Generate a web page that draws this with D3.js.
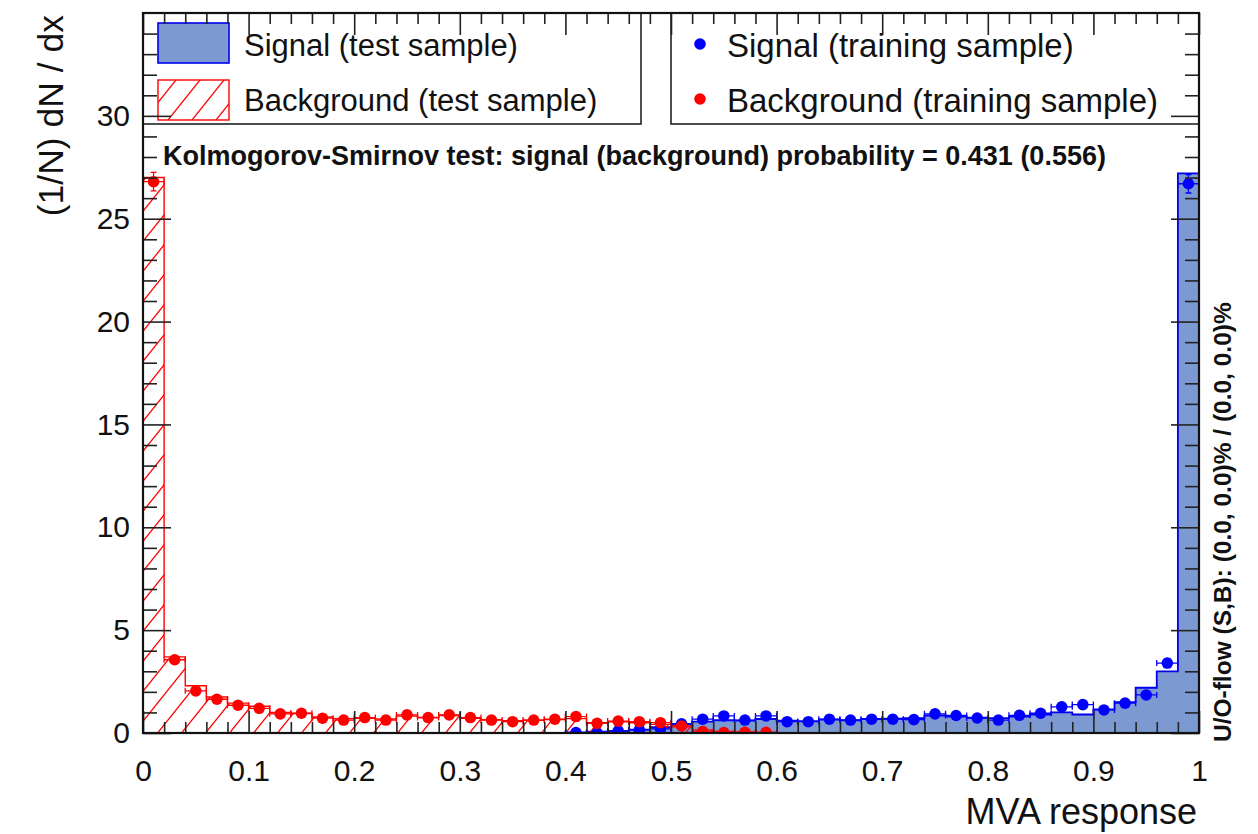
<!DOCTYPE html>
<html>
<head>
<meta charset="utf-8">
<script src="https://cdn.jsdelivr.net/npm/d3@7"></script>
<style>
  html, body { margin: 0; padding: 0; background: #fff; }
  svg text { font-family: "Liberation Sans", Arial, Helvetica, sans-serif; fill: #111; }
</style>
</head>
<body>
<svg id="chart" width="1258" height="834"></svg>
<script>
// MVA response distributions, 50 bins over [0, 1]
const binEdges = d3.range(0, 51).map(i => i / 50);

// Test samples (histograms), normalised (1/N) dN/dx
const signalTest = [
  0, 0, 0, 0, 0, 0, 0, 0, 0, 0,
  0, 0, 0, 0, 0, 0, 0, 0, 0, 0,
  0.03, 0.06, 0.10, 0.16, 0.28, 0.42, 0.55, 0.62, 0.60, 0.68,
  0.60, 0.58, 0.65, 0.62, 0.68, 0.70, 0.72, 0.85, 0.80, 0.75,
  0.72, 0.80, 0.90, 1.00, 0.90, 1.15, 1.50, 2.20, 3.00, 27.2
];
const backgroundTest = [
  27.0, 3.70, 2.30, 1.75, 1.45, 1.30, 1.00, 0.95, 0.78, 0.70,
  0.72, 0.68, 0.82, 0.75, 0.85, 0.72, 0.65, 0.60, 0.62, 0.65,
  0.70, 0.50, 0.55, 0.50, 0.42, 0.30, 0.15, 0.08, 0.05, 0.03,
  0, 0, 0, 0, 0, 0, 0, 0, 0, 0,
  0, 0, 0, 0, 0, 0, 0, 0, 0, 0
];

// Training samples (points with errors); null = empty bin
const signalTrain = [
  null, null, null, null, null, null, null, null, null, null,
  null, null, null, null, null, null, null, null, null, null,
  0.02, 0.01, 0.11, 0.15, 0.20, 0.45, 0.67, 0.83, 0.63, 0.83,
  0.55, 0.55, 0.67, 0.63, 0.67, 0.67, 0.65, 0.93, 0.85, 0.73,
  0.63, 0.86, 0.96, 1.27, 1.38, 1.12, 1.45, 1.85, 3.40, 26.7
];
const signalTrainErr = [
  0, 0, 0, 0, 0, 0, 0, 0, 0, 0,
  0, 0, 0, 0, 0, 0, 0, 0, 0, 0,
  0.02, 0.02, 0.05, 0.05, 0.06, 0.08, 0.10, 0.11, 0.10, 0.11,
  0.09, 0.09, 0.10, 0.10, 0.10, 0.10, 0.10, 0.12, 0.11, 0.10,
  0.10, 0.11, 0.12, 0.14, 0.14, 0.13, 0.15, 0.16, 0.22, 0.45
];
const backgroundTrain = [
  26.8, 3.56, 2.05, 1.64, 1.35, 1.20, 0.93, 0.96, 0.72, 0.63,
  0.75, 0.63, 0.88, 0.75, 0.88, 0.75, 0.63, 0.55, 0.63, 0.67,
  0.80, 0.47, 0.58, 0.55, 0.50, 0.34, 0.07, 0.02, 0.03, 0.03,
  null, null, null, null, null, null, null, null, null, null,
  null, null, null, null, null, null, null, null, null, null
];
const backgroundTrainErr = [
  0.45, 0.16, 0.12, 0.11, 0.10, 0.09, 0.08, 0.08, 0.07, 0.07,
  0.07, 0.07, 0.08, 0.07, 0.08, 0.07, 0.07, 0.06, 0.07, 0.07,
  0.07, 0.06, 0.06, 0.06, 0.06, 0.05, 0.02, 0.01, 0.02, 0.02,
  0, 0, 0, 0, 0, 0, 0, 0, 0, 0,
  0, 0, 0, 0, 0, 0, 0, 0, 0, 0
];

const xMajorTicks = [0, 0.1, 0.2, 0.3, 0.4, 0.5, 0.6, 0.7, 0.8, 0.9, 1];
const xTickLabels = ["0", "0.1", "0.2", "0.3", "0.4", "0.5", "0.6", "0.7", "0.8", "0.9", "1"];
const yMajorTicks = [0, 5, 10, 15, 20, 25, 30];
const yTickLabels = ["0", "5", "10", "15", "20", "25", "30"];

const legendTest = ["Signal (test sample)", "Background (test sample)"];
const legendTrain = ["Signal (training sample)", "Background (training sample)"];
const ksText = "Kolmogorov-Smirnov test: signal (background) probability = 0.431 (0.556)";
const flowText = "U/O-flow (S,B): (0.0, 0.0)% / (0.0, 0.0)%";

const colors = {
  sigFill: "#7d99d1", sigLine: "#0000ee", sigPoint: "#0000ff",
  bkgLine: "#ff0000", bkgPoint: "#ff0000"
};

const frame = { left: 143, right: 1199, top: 13, bottom: 733 };
const svg = d3.select("#chart");

const x = d3.scaleLinear().domain([0, 1]).range([frame.left, frame.right]);
const y = d3.scaleLinear().domain([0, 35]).range([frame.bottom, frame.top]);

// Hatch pattern for the background test histogram
const defs = svg.append("defs");
const hatch = defs.append("pattern")
  .attr("id", "hatch").attr("patternUnits", "userSpaceOnUse")
  .attr("width", 24).attr("height", 30);
hatch.append("path")
  .attr("d", "M0,30 L24,0 M-6,7.5 L6,-7.5 M18,37.5 L30,22.5")
  .attr("stroke", colors.bkgLine).attr("stroke-width", 1.3).attr("fill", "none");

defs.append("clipPath").attr("id", "plotClip").append("rect")
  .attr("x", frame.left).attr("y", frame.top)
  .attr("width", frame.right - frame.left).attr("height", frame.bottom - frame.top);

// Step histogram outline as an area
function histData(values) {
  return binEdges.map((e, i) => ({ e, v: values[Math.min(i, values.length - 1)] }));
}
const histArea = d3.area()
  .curve(d3.curveStepAfter)
  .x(d => x(d.e)).y0(y(0)).y1(d => y(d.v));

const plot = svg.append("g").attr("clip-path", "url(#plotClip)");

plot.append("path")
  .datum(histData(signalTest))
  .attr("d", histArea)
  .attr("fill", colors.sigFill)
  .attr("stroke", colors.sigLine).attr("stroke-width", 1.8);

plot.append("path")
  .datum(histData(backgroundTest))
  .attr("d", histArea)
  .attr("fill", "url(#hatch)")
  .attr("stroke", colors.bkgLine).attr("stroke-width", 1.4);

// Training points with error bars
function drawPoints(values, errs, color) {
  const g = plot.append("g");
  const pts = values.map((v, i) => ({ v, err: errs[i], lo: binEdges[i], hi: binEdges[i + 1] }))
    .filter(d => d.v !== null);
  const cap = 3;
  pts.forEach(d => {
    const cx = x((d.lo + d.hi) / 2), cy = y(d.v);
    const x0 = x(d.lo), x1 = x(d.hi);
    const yTop = y(d.v + d.err), yBot = y(d.v - d.err);
    const path = d3.path();
    path.moveTo(x0, cy); path.lineTo(x1, cy);
    path.moveTo(x0, cy - cap); path.lineTo(x0, cy + cap);
    path.moveTo(x1, cy - cap); path.lineTo(x1, cy + cap);
    path.moveTo(cx, yTop); path.lineTo(cx, yBot);
    path.moveTo(cx - cap, yTop); path.lineTo(cx + cap, yTop);
    path.moveTo(cx - cap, yBot); path.lineTo(cx + cap, yBot);
    g.append("path").attr("d", path.toString())
      .attr("stroke", color).attr("stroke-width", 1.3).attr("fill", "none");
    g.append("circle").attr("cx", cx).attr("cy", cy).attr("r", 5.8).attr("fill", color);
  });
}
drawPoints(signalTrain, signalTrainErr, colors.sigPoint);
drawPoints(backgroundTrain, backgroundTrainErr, colors.bkgPoint);

// Legends
const legend1 = svg.append("g");
legend1.append("rect")
  .attr("x", frame.left).attr("y", frame.top)
  .attr("width", 641 - frame.left).attr("height", 124 - frame.top)
  .attr("fill", "#fff").attr("stroke", "#222").attr("stroke-width", 1.6);
legend1.append("rect").attr("x", 158).attr("y", 23).attr("width", 71).attr("height", 40)
  .attr("fill", colors.sigFill).attr("stroke", colors.sigLine).attr("stroke-width", 1.6);
legend1.append("rect").attr("x", 158).attr("y", 80).attr("width", 71).attr("height", 40)
  .attr("fill", "url(#hatch)").attr("stroke", colors.bkgLine).attr("stroke-width", 1.4);
legend1.selectAll("text").data(legendTest).join("text")
  .attr("x", 244).attr("y", (d, i) => 45 + i * 55).attr("dy", "0.35em")
  .attr("font-size", 31).text(d => d);

const legend2 = svg.append("g");
legend2.append("rect")
  .attr("x", 671).attr("y", frame.top)
  .attr("width", frame.right - 671).attr("height", 124 - frame.top)
  .attr("fill", "#fff").attr("stroke", "#222").attr("stroke-width", 1.6);
legend2.selectAll("circle").data([colors.sigPoint, colors.bkgPoint]).join("circle")
  .attr("cx", 700).attr("cy", (d, i) => 44 + i * 55).attr("r", 5.8).attr("fill", d => d);
legend2.selectAll("text").data(legendTrain).join("text")
  .attr("x", 727).attr("y", (d, i) => 45 + i * 55).attr("dy", "0.35em")
  .attr("font-size", 33).text(d => d);

// Axes: ticks pointing inward on all four sides
const axes = svg.append("g");
function styleAxis(g) {
  g.select(".domain").remove();
  g.selectAll(".tick line").attr("stroke", "#222").attr("stroke-width", 1.6);
  g.selectAll(".tick text").attr("font-size", 30).attr("fill", "#111")
    .style("font-family", '"Liberation Sans", Arial, sans-serif');
}
const xMinor = d3.range(0, 51).map(i => i / 50).filter((v, i) => i % 5 !== 0);
const yMinor = d3.range(0, 36).filter(v => v % 5 !== 0);

axes.append("g").attr("transform", `translate(0,${frame.bottom})`)
  .call(d3.axisBottom(x).tickValues(xMajorTicks).tickSize(-22).tickPadding(27)
    .tickFormat((d, i) => xTickLabels[i]))
  .call(styleAxis);
axes.append("g").attr("transform", `translate(0,${frame.bottom})`)
  .call(d3.axisBottom(x).tickValues(xMinor).tickSize(-11).tickFormat(""))
  .call(styleAxis);
axes.append("g").attr("transform", `translate(0,${frame.top})`)
  .call(d3.axisTop(x).tickValues(xMajorTicks).tickSize(-22).tickFormat(""))
  .call(styleAxis);
axes.append("g").attr("transform", `translate(0,${frame.top})`)
  .call(d3.axisTop(x).tickValues(xMinor).tickSize(-11).tickFormat(""))
  .call(styleAxis);

axes.append("g").attr("transform", `translate(${frame.left},0)`)
  .call(d3.axisLeft(y).tickValues(yMajorTicks).tickSize(-28).tickPadding(13)
    .tickFormat((d, i) => yTickLabels[i]))
  .call(styleAxis);
axes.append("g").attr("transform", `translate(${frame.left},0)`)
  .call(d3.axisLeft(y).tickValues(yMinor).tickSize(-14).tickFormat(""))
  .call(styleAxis);
axes.append("g").attr("transform", `translate(${frame.right},0)`)
  .call(d3.axisRight(y).tickValues(yMajorTicks).tickSize(-28).tickFormat(""))
  .call(styleAxis);
axes.append("g").attr("transform", `translate(${frame.right},0)`)
  .call(d3.axisRight(y).tickValues(yMinor).tickSize(-14).tickFormat(""))
  .call(styleAxis);

svg.append("rect")
  .attr("x", frame.left).attr("y", frame.top)
  .attr("width", frame.right - frame.left).attr("height", frame.bottom - frame.top)
  .attr("fill", "none").attr("stroke", "#111").attr("stroke-width", 2.2);

// Axis titles and annotations
svg.append("text")
  .attr("x", 1197).attr("y", 824).attr("text-anchor", "end")
  .attr("font-size", 36).text("MVA response");
svg.append("text")
  .attr("transform", "translate(63,15) rotate(-90)")
  .attr("text-anchor", "end").attr("font-size", 35.5).text("(1/N) dN / dx");
svg.append("text")
  .attr("x", 163).attr("y", 165).attr("font-size", 27).attr("font-weight", "bold")
  .text(ksText);
svg.append("text")
  .attr("transform", "translate(1231,742) rotate(-90)")
  .attr("font-size", 24.5).attr("font-weight", "bold").text(flowText);
</script>
</body>
</html>
